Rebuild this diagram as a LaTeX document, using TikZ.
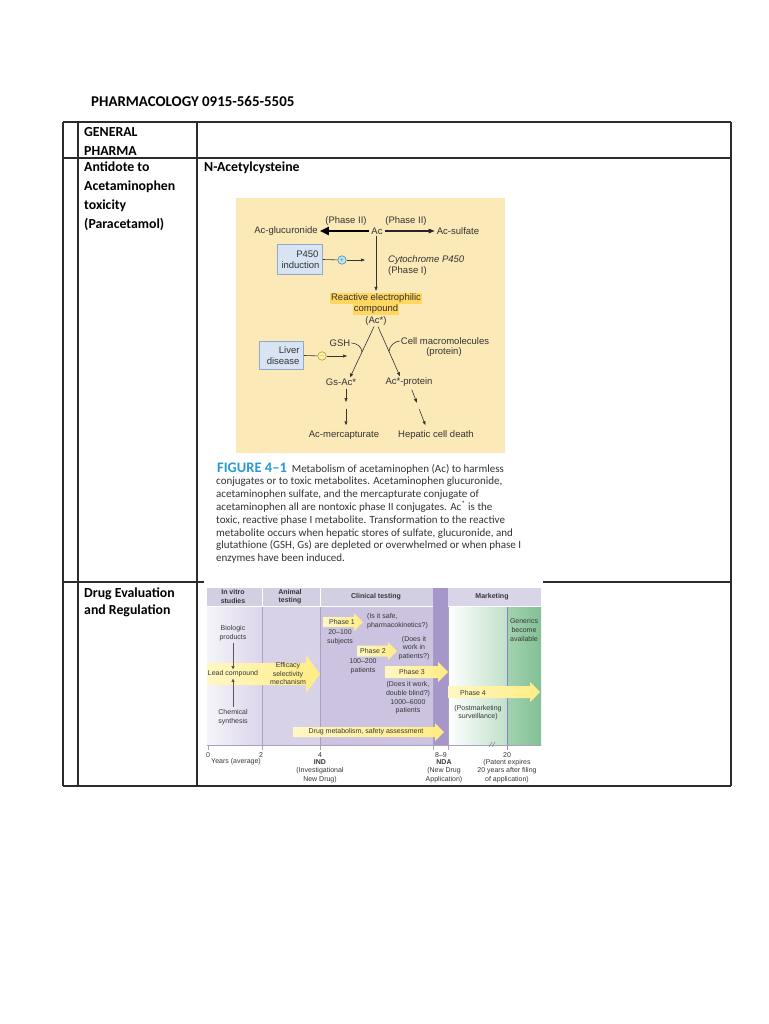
\documentclass[tikz,border=0pt]{standalone}
\usepackage{fontspec}
\setmainfont{Carlito}
\newfontfamily\figfont{Liberation Sans}
\usetikzlibrary{arrows.meta,calc}
\definecolor{tline}{HTML}{2B2B2B}
\definecolor{figbg}{HTML}{FCE9B8}
\definecolor{hiyel}{HTML}{FFD660}
\definecolor{boxblue}{HTML}{D8E4F4}
\definecolor{boxedge}{HTML}{93ABCB}
\definecolor{figtext}{HTML}{333333}
\definecolor{capblue}{HTML}{2A9AD4}
\definecolor{captext}{HTML}{333333}
\definecolor{plusfill}{HTML}{C3E4EE}
\definecolor{plusedge}{HTML}{3F8FB5}
\definecolor{minfill}{HTML}{FFF1A3}
\definecolor{minedge}{HTML}{B09A3C}
\definecolor{hdrc}{HTML}{D3CFE3}
\definecolor{mkthdr}{HTML}{DAD4E9}
\definecolor{ndac}{HTML}{A696C9}
\definecolor{vitroL}{HTML}{F6F4FA}
\definecolor{vitroR}{HTML}{DAD5EA}
\definecolor{animc}{HTML}{D8D2E9}
\definecolor{clinc}{HTML}{CBC3E0}
\definecolor{mktR}{HTML}{C0E0C8}
\definecolor{genL}{HTML}{A3D2B0}
\definecolor{genR}{HTML}{82C095}
\definecolor{colline}{HTML}{A8A2BE}
\definecolor{yelL}{HTML}{FFF7C4}
\definecolor{yelR}{HTML}{FFEC84}
\definecolor{chtext}{HTML}{363636}
\newcommand\yarr[6]{\shade[yarrow] (#1,#3-#4) -- (#2-#6,#3-#4) -- (#2-#6,#3-#5) -- (#2,#3) -- (#2-#6,#3+#5) -- (#2-#6,#3+#4) -- (#1,#3+#4) -- cycle;}
\tikzset{
  tbl/.style={font=\bfseries\fontsize{13.8}{19}\selectfont, anchor=base west, inner sep=0, text=black},
  tblline/.style={line width=1.2pt, draw=tline},
  ft/.style={font=\figfont\fontsize{9.5}{10.5}\selectfont, text=figtext, inner sep=1pt, align=center},
  fbox/.style={ft, draw=boxedge, fill=boxblue, line width=0.6pt, align=right, inner sep=4pt, minimum height=30pt},
  figline/.style={draw=figtext, line width=0.6pt},
  figarrow/.style={figline, -{Triangle[length=4pt,width=3pt]}},
  captxt/.style={font=\fontsize{11}{12.8}\selectfont, text=captext, anchor=base west, inner sep=0},
  ch/.style={font=\figfont\fontsize{7}{8.6}\selectfont, text=chtext, align=center, inner sep=0},
  chb/.style={ch, font=\figfont\bfseries\fontsize{7}{8.6}\selectfont},
  yarrow/.style={left color=yelL, right color=yelR, draw=none},
  charrow/.style={draw=black!65, line width=0.8pt, -{Triangle[length=3.5pt,width=3pt]}},
}
\begin{document}
\begin{tikzpicture}[x=1pt,y=-1pt]
\useasboundingbox (0,0) rectangle (768,1024);
\fill[white] (0,0) rectangle (768,1024);

% ---------- title and table ----------
\node[tbl, font=\bfseries\fontsize{14.9}{19}\selectfont] (title) at (91,106.5) {PHARMACOLOGY 0915-565-5505};
\draw[tblline] (63,122) -- (731,122);
\draw[tblline] (63,158) -- (731,158);
\draw[tblline] (63,582) -- (204,582);
\draw[tblline] (543,582) -- (731,582);
\draw[tblline] (63,786) -- (731,786);
\draw[tblline] (63,122) -- (63,786);
\draw[tblline] (78,122) -- (78,786);
\draw[tblline] (197,122) -- (197,786);
\draw[tblline] (731,122) -- (731,786);

\node[tbl] (gen1) at (84,137) {GENERAL};
\node[tbl] (gen2) at (84,156) {PHARMA};
\node[tbl] (ant1) at (84,172) {Antidote to};
\node[tbl] (ant2) at (84,191) {Acetaminophen};
\node[tbl] (ant3) at (84,210) {toxicity};
\node[tbl] (ant4) at (84,229) {(Paracetamol)};
\node[tbl] (nac) at (204,172) {N-Acetylcysteine};
\node[tbl] (dre1) at (84,597) {Drug Evaluation};
\node[tbl] (dre2) at (84,614) {and Regulation};

% ---------- figure 4-1 ----------
\fill[figbg] (236,198) rectangle (505,453);
\node[ft] (phl) at (346,221) {(Phase II)};
\node[ft] (phr) at (406,221) {(Phase II)};
\node[ft] (glu) at (286,231) {Ac-glucuronide};
\node[ft] (ac) at (377,231) {Ac};
\node[ft] (sul) at (458,231) {Ac-sulfate};
\draw[draw=black, line width=2.6pt, -{Triangle[length=9pt,width=8pt]}] ([xshift=-1pt]ac.west) -- ([xshift=1pt]glu.east);
\draw[draw=black!85, line width=1.2pt, -{Triangle[length=6pt,width=4.5pt]}] ([xshift=1pt]ac.east) -- ([xshift=-1pt]sul.west);

\node[fbox, text width=37pt] (p450) at (300,259.5) {P450\\induction};
\node[circle, draw=plusedge, fill=plusfill, line width=0.6pt, minimum size=8.5pt, inner sep=0, font=\figfont\fontsize{7}{7}\selectfont, text=plusedge] (plus) at (342,260) {+};
\coordinate (pend) at (365,260);
\draw[figline] (p450.east) -- (plus);
\draw[figarrow] (plus) -- (pend);

\node[ft, anchor=west, inner sep=0, font=\figfont\itshape\fontsize{9.5}{10.5}\selectfont] (cyt) at (388,260) {Cytochrome P450};
\node[ft, anchor=west, inner sep=0] (ph1) at (388,271) {(Phase I)};

\node[ft, fill=hiyel, inner sep=1pt] (re1) at (376,298.5) {Reactive electrophilic};
\node[ft, fill=hiyel, inner sep=1pt] (re2) at (376,309.5) {compound};
\node[ft] (acs) at (376,321) {(Ac*)};
\draw[figarrow] (ac.south -| re1.north) -- ([yshift=2pt]re1.north);

\node[ft] (gsh) at (340,343) {GSH};
\node[ft] (cell) at (445,341) {Cell macromolecules};
\node[ft] (prot) at (444,352) {(protein)};
\node[fbox, text width=36pt, minimum height=28pt] (liver) at (281.5,355.5) {Liver\\disease};
\node[circle, draw=minedge, fill=minfill, line width=0.6pt, minimum size=8.5pt, inner sep=0, font=\figfont\fontsize{7}{7}\selectfont, text=minedge] (minus) at (322,356) {$-$};
\coordinate (mend) at (347,356);
\draw[figline] (liver.east) -- (minus);
\draw[figarrow] (minus) -- (mend);

\node[ft] (gsac) at (341,382) {Gs-Ac*};
\node[ft] (acp) at (409,382) {Ac*-protein};
\coordinate (la) at ([xshift=-2pt]acs.south);
\coordinate (lb) at ([xshift=9pt]gsac.north);
\coordinate (ra) at ([xshift=2pt]acs.south);
\coordinate (rb) at ([xshift=-9pt]acp.north);
\draw[figarrow] (la) -- (lb);
\draw[figarrow] (ra) -- (rb);
\coordinate (gj) at ($(la)!0.5!(lb)$);
\coordinate (cj) at ($(ra)!0.5!(rb)$);
\draw[figline] (gsh.east) .. controls +(5,0) and +(0,-5) .. (gj);
\draw[figline] (cell.west) .. controls +(-5,0) and +(0,-5) .. (cj);

\node[ft] (merc) at (344,435) {Ac-mercapturate};
\node[ft] (hep) at (436,435) {Hepatic cell death};
\coordinate (g1) at ([xshift=5pt]gsac.south);
\coordinate (g2) at ([xshift=2pt]merc.north);
\coordinate (h1) at ([xshift=2pt]acp.south);
\coordinate (h2) at ([xshift=-9pt]hep.north);
\draw[figarrow] ($(g1)!0.05!(g2)$) -- ($(g1)!0.36!(g2)$);
\draw[figarrow] ($(g1)!0.52!(g2)$) -- ($(g1)!0.9!(g2)$);
\draw[figarrow] ($(h1)!0.05!(h2)$) -- ($(h1)!0.36!(h2)$);
\draw[figarrow] ($(h1)!0.52!(h2)$) -- ($(h1)!0.9!(h2)$);

% caption
\node[captxt] (c1) at (217,472) {{\bfseries\color{capblue}\fontsize{14.5}{14}\selectfont FIGURE 4–1}\hspace{5pt}Metabolism of acetaminophen (Ac) to harmless};
\node[captxt] (c2) at (216,484.8) {conjugates or to toxic metabolites. Acetaminophen glucuronide,};
\node[captxt] (c3) at (216,497.6) {acetaminophen sulfate, and the mercapturate conjugate of};
\node[captxt] (c4) at (216,510.4) {acetaminophen all are nontoxic phase II conjugates. Ac\textsuperscript{*} is the};
\node[captxt] (c5) at (216,523.2) {toxic, reactive phase I metabolite. Transformation to the reactive};
\node[captxt] (c6) at (216,536) {metabolite occurs when hepatic stores of sulfate, glucuronide, and};
\node[captxt] (c7) at (216,548.8) {glutathione (GSH, Gs) are depleted or overwhelmed or when phase I};
\node[captxt] (c8) at (216,561.6) {enzymes have been induced.};

% ---------- drug development chart ----------
\fill[hdrc] (207,588) rectangle (262,606);
\fill[hdrc] (263,588) rectangle (320,606);
\fill[hdrc] (321,588) rectangle (433,606);
\fill[mkthdr] (448,588) rectangle (541,606);
\shade[left color=vitroL, right color=vitroR] (207,607) rectangle (262,745);
\fill[animc] (262,607) rectangle (320,745);
\fill[clinc] (320,607) rectangle (433,745);
\fill[ndac] (433,588) rectangle (448,745);
\shade[left color=white, right color=mktR] (448,607) rectangle (507,745);
\shade[left color=genL, right color=genR] (507,607) rectangle (541,745);
\draw[colline, line width=0.5pt] (262,607) -- (262,750);
\draw[colline, line width=0.5pt] (320,607) -- (320,750);
\draw[colline, line width=0.5pt] (433,607) -- (433,750);
\draw[colline, line width=0.5pt] (448,607) -- (448,750);
\draw[colline!80!blue, line width=0.6pt] (507,607) -- (507,750);
\draw[colline, line width=0.5pt] (208,745) -- (208,750);
\draw[colline, line width=0.5pt] (207,745) -- (541,745);
\draw[black!50, line width=0.5pt] (489,747) -- (492,742);
\draw[black!50, line width=0.5pt] (492,747) -- (495,742);

\node[chb] (h1t) at (233,596.5) {In vitro\\studies};
\node[chb] (h2t) at (290,596.5) {Animal\\testing};
\node[chb] (h3t) at (376,597) {Clinical testing};
\node[chb] (h4t) at (492,597) {Marketing};

\yarr{207}{320}{674}{11}{19}{14}
\yarr{323}{363}{622}{5}{9}{9}
\yarr{357}{397}{651}{5.5}{9}{9}
\yarr{385}{448}{672}{6}{10}{10}
\yarr{448}{540}{692}{6}{10}{10}
\yarr{293}{444}{732}{5}{9}{9}

\node[ch] (bio) at (233,633) {Biologic\\products};
\node[ch] (lead) at (233,674) {Lead compound};
\node[ch] (chem) at (233,717) {Chemical\\synthesis};
\draw[charrow] ([yshift=-2pt]bio.south) -- ([yshift=1pt]lead.north);
\draw[charrow] ([yshift=2pt]chem.north) -- ([yshift=-1pt]lead.south);
\node[ch] (eff) at (288,673.5) {Efficacy\\selectivity\\mechanism};
\node[ch] (p1) at (342,622) {Phase 1};
\node[ch, anchor=west, align=left] (p1q) at (367,621) {(Is it safe,\\pharmacokinetics?)};
\node[ch] (s1) at (340,637.5) {20–100\\subjects};
\node[ch] (p2) at (373,651) {Phase 2};
\node[ch] (p2q) at (414,648) {(Does it\\work in\\patients?)};
\node[ch] (s2) at (363,666.5) {100–200\\patients};
\node[ch] (p3) at (412,672) {Phase 3};
\node[ch] (p3q) at (408,698) {(Does it work,\\double blind?)\\1000–6000\\patients};
\node[ch, anchor=west] (p4) at (460,692.5) {Phase 4};
\node[ch] (p4q) at (478,712.5) {(Postmarketing\\surveillance)};
\node[ch] (gen) at (524,630) {Generics\\become\\available};
\node[ch] (dm) at (366,732) {Drug metabolism, safety assessment};

\node[ch] (t0) at (208,755) {0};
\node[ch] (t2) at (261,755) {2};
\node[ch] (t4) at (320,755) {4};
\node[ch] (t8) at (441,755) {8–9};
\node[ch] (t20) at (507,755) {20};
\node[ch] (yrs) at (236,762) {Years (average)};
\node[ch] (ind) at (320,771) {\textbf{IND}\\(Investigational\\New Drug)};
\node[ch] (nda) at (444,771) {\textbf{NDA}\\(New Drug\\Application)};
\node[ch] (pat) at (507,771) {(Patent expires\\20 years after filing\\of application)};
\end{tikzpicture}
\end{document}
